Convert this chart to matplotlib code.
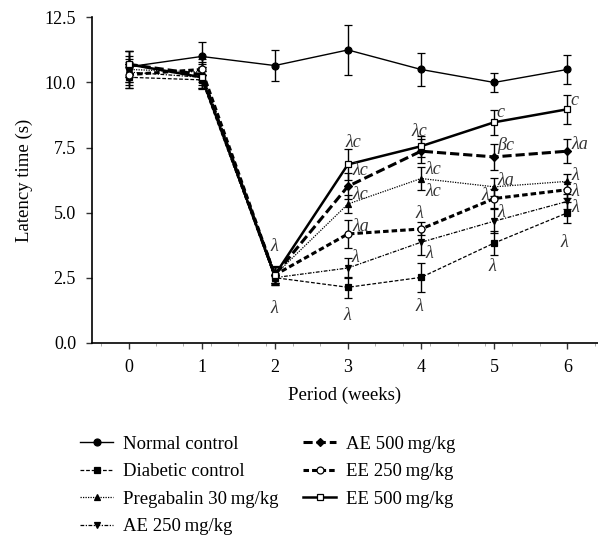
import matplotlib
matplotlib.use('Agg')
import matplotlib.pyplot as plt
from matplotlib.lines import Line2D
from matplotlib.ticker import MultipleLocator

plt.rcParams['font.family'] = ['Liberation Serif', 'DejaVu Serif']

# data
weeks = [0, 1, 2, 3, 4, 5, 6]
labels = ['Normal control', 'Diabetic control', 'Pregabalin 30\u2009mg/kg',
          'AE 250\u2009mg/kg', 'AE 500\u2009mg/kg', 'EE 250\u2009mg/kg', 'EE 500\u2009mg/kg']

normal = [10.6, 11.0, 10.65, 11.25, 10.5, 10.0, 10.5]
diabetic = [10.2, 10.1, 2.5, 2.13, 2.51, 3.83, 4.99]
pregabalin = [10.5, 10.4, 2.6, 5.33, 6.31, 5.99, 6.2]
ae250 = [10.4, 10.2, 2.5, 2.87, 3.86, 4.67, 5.43]
ae500 = [10.7, 10.3, 2.6, 6.01, 7.36, 7.14, 7.36]
ee250 = [10.3, 10.5, 2.6, 4.18, 4.37, 5.54, 5.88]
ee500 = [10.7, 10.2, 2.6, 6.85, 7.55, 8.47, 8.97]

normal_err = [0.6, 0.55, 0.6, 0.95, 0.65, 0.35, 0.55]
diabetic_err = [0.4, 0.35, 0.3, 0.4, 0.55, 0.45, 0.4]
pregabalin_err = [0.5, 0.4, 0.35, 0.35, 0.45, 0.35, 0.3]
ae250_err = [0.5, 0.4, 0.3, 0.4, 0.5, 0.45, 0.3]
ae500_err = [0.5, 0.4, 0.3, 0.5, 0.45, 0.5, 0.47]
ee250_err = [0.5, 0.4, 0.3, 0.55, 0.25, 0.35, 0.3]
ee500_err = [0.5, 0.4, 0.3, 0.6, 0.4, 0.47, 0.55]

# significance letters: (x, y, text, ha)
notes = [
    (2.0, 3.7, 'λ', 'center'), (2.0, 1.33, 'λ', 'center'),
    (3.08, 7.70, 'λc', 'center'), (3.06, 6.60, 'λc', 'left'), (3.06, 5.69, 'λc', 'left'),
    (3.06, 4.46, 'λa', 'left'), (3.05, 3.29, 'λ', 'left'), (2.99, 1.06, 'λ', 'center'),
    (3.97, 8.13, 'λc', 'center'), (4.06, 6.67, 'λc', 'left'), (4.06, 5.81, 'λc', 'left'),
    (3.97, 4.95, 'λ', 'center'), (4.06, 3.42, 'λ', 'left'), (3.97, 1.40, 'λ', 'center'),
    (5.03, 8.83, 'c', 'left'), (5.04, 7.56, 'βc', 'left'), (5.04, 6.25, 'λa', 'left'),
    (4.93, 5.65, 'λ', 'right'), (5.04, 5.01, 'λ', 'left'), (4.97, 2.91, 'λ', 'center'),
    (6.04, 9.31, 'c', 'left'), (6.05, 7.62, 'λa', 'left'), (6.05, 6.41, 'λ', 'left'),
    (6.05, 5.80, 'λ', 'left'), (6.05, 5.18, 'λ', 'left'), (5.96, 3.86, 'λ', 'center'),
]

series = [normal, diabetic, pregabalin, ae250, ae500, ee250, ee500]
errors = [normal_err, diabetic_err, pregabalin_err, ae250_err, ae500_err, ee250_err, ee500_err]
styles = [
    dict(ls='-', lw=1.0, marker='o', ms=5, mfc='k'),
    dict(ls=(0, (3, 1.5)), lw=0.9, marker='s', ms=5, mfc='k'),
    dict(ls=(0, (1, 1)), lw=0.9, marker='^', ms=5, mfc='k'),
    dict(ls=(0, (3, 1.2, 1, 1.2)), lw=0.9, marker='v', ms=5, mfc='k'),
    dict(ls=(0, (3, 1.3)), lw=2.2, marker='D', ms=4.5, mfc='k'),
    dict(ls=(0, (1.8, 1)), lw=2.2, marker='o', ms=5, mfc='white'),
    dict(ls='-', lw=1.8, marker='s', ms=5, mfc='white'),
]

fig = plt.figure(figsize=(5.98, 5.44), dpi=100)
ax = fig.add_axes([0.1538, 0.370, 0.8462, 0.598])

handles = []
for y, e, lab, st in zip(series, errors, labels, styles):
    ax.errorbar(weeks, y, yerr=e, color='k', mec='k', mew=0.9,
                ecolor='k', elinewidth=1.0, capsize=3, capthick=1.0, **st)
    handles.append(Line2D([], [], color='k', mec='k', mew=0.9, label=lab, **st))

for x, y, t, ha in notes:
    ax.text(x, y, t, ha=ha, va='center', fontsize=13, style='italic', color='#333333')

ax.set_xlim(-0.5, 6.42)
ax.set_ylim(0, 12.5)
ax.set_xticks(weeks)
ax.set_yticks([0, 2.5, 5.0, 7.5, 10.0, 12.5])
ax.set_yticklabels(['0.0', '2.5', '5.0', '7.5', '10.0', '12.5'])
ax.xaxis.set_minor_locator(MultipleLocator(0.375))
ax.tick_params(which='major', direction='out', length=4.5, width=1, labelsize=13,
               color='#333333', pad=7)
ax.tick_params(which='minor', direction='out', length=2, width=0.5, color='#888888')
ax.tick_params(axis='y', which='minor', left=False)
for s in ['top', 'right']:
    ax.spines[s].set_visible(False)
for s in ['left', 'bottom']:
    ax.spines[s].set_linewidth(1.2)
ax.set_xlabel('Period (weeks)', fontsize=13.5, labelpad=8)
ax.set_ylabel('Latency time (s)', fontsize=13.5, labelpad=8)

fig.legend(handles=handles, ncol=2, frameon=False, fontsize=13.5,
           loc='upper left', bbox_to_anchor=(0.105, 0.230), handlelength=1.8,
           handletextpad=0.5, labelspacing=0.55, columnspacing=1.3)

fig.savefig('out.png', dpi=100)
